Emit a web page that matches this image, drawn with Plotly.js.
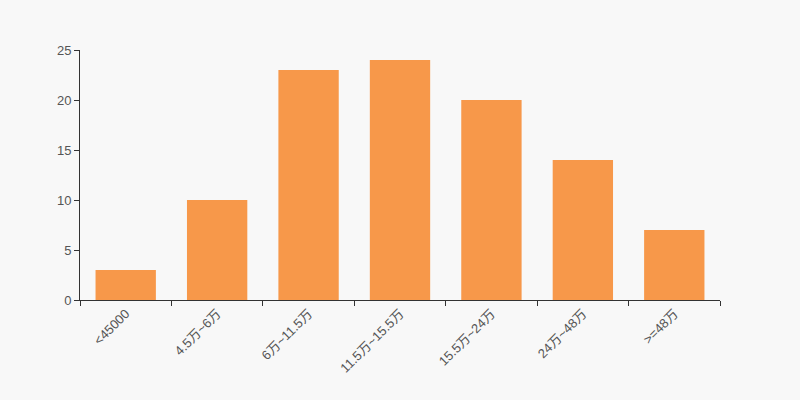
<!DOCTYPE html>
<html><head><meta charset="utf-8">
<script src="https://cdn.plot.ly/plotly-3.0.1.min.js"></script>
<style>html,body{margin:0;padding:0;background:#f8f8f8;}</style>
</head><body>
<div id="chart" style="width:800px;height:400px;"></div>
<script>
var categories = ["<45000", "4.5万~6万", "6万~11.5万", "11.5万~15.5万", "15.5万~24万", "24万~48万", ">=48万"];
var values = [3, 10, 23, 24, 20, 14, 7];
var yTicks = [0, 5, 10, 15, 20, 25];

var trace = {
  type: "bar",
  x: categories,
  y: values,
  marker: {color: "#f7984a"},
  hoverinfo: "x+y"
};
var layout = {
  width: 800, height: 400,
  margin: {l: 80, r: 80, t: 50, b: 100},
  paper_bgcolor: "#f8f8f8",
  plot_bgcolor: "#f8f8f8",
  bargap: 0.34,
  showlegend: false,
  font: {family: "Arial, 'Liberation Sans', 'Noto Sans CJK SC', sans-serif", size: 13, color: "#555"},
  xaxis: {
    type: "category",
    tickangle: -45,
    showline: true, linecolor: "#333", linewidth: 1,
    ticks: "outside", ticklen: 5, tickcolor: "#333",
    tickson: "boundaries",
    showgrid: false, zeroline: false,
    tickfont: {size: 13, color: "#555"}
  },
  yaxis: {
    range: [0, 25],
    tickvals: yTicks,
    showline: true, linecolor: "#333", linewidth: 1,
    ticks: "outside", ticklen: 5, tickcolor: "#333",
    showgrid: false, zeroline: false,
    tickfont: {size: 13, color: "#555"}
  }
};
Plotly.newPlot("chart", [trace], layout, {displayModeBar: false, staticPlot: true});
</script>
</body></html>
